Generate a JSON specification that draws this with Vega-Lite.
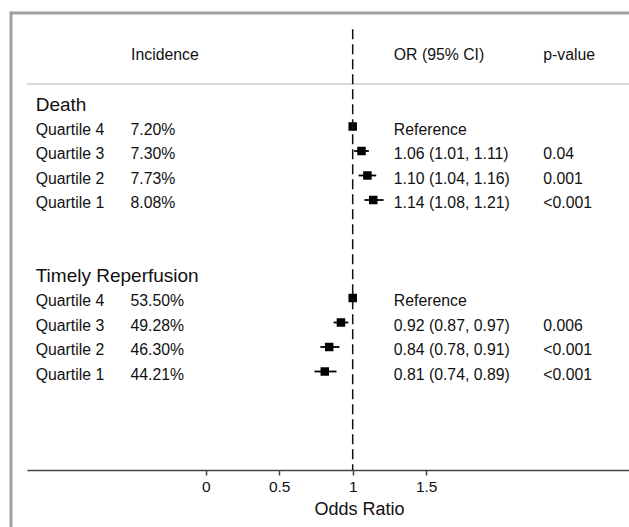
{
  "$schema": "https://vega.github.io/schema/vega-lite/v6.json",
  "autosize": {"type": "none"},
  "width": 602,
  "height": 470,
  "padding": {"left": 27, "top": 0, "right": 0, "bottom": 57},
  "background": "white",
  "config": {
    "view": {"stroke": null},
    "font": "Liberation Sans",
    "text": {"font": "Liberation Sans", "color": "#111111"}
  },
  "datasets": {
    "rows": [
      {"group": "Death", "label": "Quartile 4", "row": 1, "incidence": "7.20%", "or": 1.0, "lo": 1.0, "hi": 1.0, "ci": "Reference", "p": ""},
      {"group": "Death", "label": "Quartile 3", "row": 2, "incidence": "7.30%", "or": 1.06, "lo": 1.01, "hi": 1.11, "ci": "1.06 (1.01, 1.11)", "p": "0.04"},
      {"group": "Death", "label": "Quartile 2", "row": 3, "incidence": "7.73%", "or": 1.10, "lo": 1.04, "hi": 1.16, "ci": "1.10 (1.04, 1.16)", "p": "0.001"},
      {"group": "Death", "label": "Quartile 1", "row": 4, "incidence": "8.08%", "or": 1.14, "lo": 1.08, "hi": 1.21, "ci": "1.14 (1.08, 1.21)", "p": "<0.001"},
      {"group": "Timely Reperfusion", "label": "Quartile 4", "row": 8, "incidence": "53.50%", "or": 1.0, "lo": 1.0, "hi": 1.0, "ci": "Reference", "p": ""},
      {"group": "Timely Reperfusion", "label": "Quartile 3", "row": 9, "incidence": "49.28%", "or": 0.92, "lo": 0.87, "hi": 0.97, "ci": "0.92 (0.87, 0.97)", "p": "0.006"},
      {"group": "Timely Reperfusion", "label": "Quartile 2", "row": 10, "incidence": "46.30%", "or": 0.84, "lo": 0.78, "hi": 0.91, "ci": "0.84 (0.78, 0.91)", "p": "<0.001"},
      {"group": "Timely Reperfusion", "label": "Quartile 1", "row": 11, "incidence": "44.21%", "or": 0.81, "lo": 0.74, "hi": 0.89, "ci": "0.81 (0.74, 0.89)", "p": "<0.001"}
    ],
    "groups": [
      {"group": "Death", "row": 0},
      {"group": "Timely Reperfusion", "row": 7}
    ],
    "one": [{}]
  },
  "data": {"name": "rows"},
  "layer": [
    {
      "mark": {"type": "point", "shape": "square", "filled": true, "size": 72, "color": "#000000", "opacity": 1},
      "encoding": {
        "x": {
          "field": "or", "type": "quantitative",
          "scale": {"domain": [-1.2156, 2.8796], "nice": false, "zero": false},
          "axis": {
            "values": [0, 0.5, 1, 1.5],
            "format": "~g",
            "grid": false,
            "domainColor": "#444444", "domainWidth": 1.5,
            "tickColor": "#444444", "tickWidth": 1.5, "tickSize": 5,
            "labelFont": "Liberation Sans", "labelFontSize": 15.5, "labelColor": "#111111", "labelPadding": 4,
            "title": "Odds Ratio", "titleFont": "Liberation Sans", "titleFontSize": 18, "titleFontWeight": "normal", "titleColor": "#111111",
            "titleX": 332, "titleY": 44, "titleBaseline": "alphabetic"
          }
        },
        "y": {"field": "row", "type": "quantitative", "scale": {"domain": [-4.1633, 15.0204], "nice": false, "zero": false, "reverse": true}, "axis": null}
      }
    },
    {
      "mark": {"type": "rule", "color": "#000000", "strokeWidth": 1.8},
      "encoding": {
        "x": {"field": "lo", "type": "quantitative"},
        "x2": {"field": "hi"},
        "y": {"field": "row", "type": "quantitative"}
      }
    },
    {
      "mark": {"type": "text", "align": "left", "baseline": "alphabetic", "fontSize": 15.8, "dy": 8},
      "encoding": {
        "x": {"datum": -1.1564},
        "y": {"field": "row", "type": "quantitative"},
        "text": {"field": "label"}
      }
    },
    {
      "mark": {"type": "text", "align": "left", "baseline": "alphabetic", "fontSize": 15.8, "dy": 8},
      "encoding": {
        "x": {"datum": -0.5116},
        "y": {"field": "row", "type": "quantitative"},
        "text": {"field": "incidence"}
      }
    },
    {
      "mark": {"type": "text", "align": "left", "baseline": "alphabetic", "fontSize": 15.8, "dy": 8},
      "encoding": {
        "x": {"datum": 1.2796},
        "y": {"field": "row", "type": "quantitative"},
        "text": {"field": "ci"}
      }
    },
    {
      "mark": {"type": "text", "align": "left", "baseline": "alphabetic", "fontSize": 15.8, "dy": 8},
      "encoding": {
        "x": {"datum": 2.2966},
        "y": {"field": "row", "type": "quantitative"},
        "text": {"field": "p"}
      }
    },
    {
      "data": {"name": "groups"},
      "mark": {"type": "text", "align": "left", "baseline": "alphabetic", "fontSize": 19, "dy": 8.5},
      "encoding": {
        "x": {"datum": -1.1564},
        "y": {"field": "row", "type": "quantitative"},
        "text": {"field": "group"}
      }
    },
    {
      "data": {"name": "one"},
      "mark": {"type": "rule", "color": "#a0a0a0", "strokeWidth": 3, "strokeCap": "square"},
      "encoding": {
        "x": {"datum": -1.3244},
        "y": {"datum": -3.632},
        "y2": {"datum": 17.35}
      }
    },
    {
      "data": {"name": "one"},
      "mark": {"type": "rule", "color": "#a0a0a0", "strokeWidth": 3},
      "encoding": {
        "x": {"datum": -1.3244},
        "x2": {"datum": 2.8796},
        "y": {"datum": -3.632}
      }
    },
    {
      "data": {"name": "one"},
      "mark": {"type": "rule", "color": "#cccccc", "strokeWidth": 1.5},
      "encoding": {
        "x": {"datum": -1.2156},
        "x2": {"datum": 2.8796},
        "y": {"datum": -0.7347}
      }
    },
    {
      "data": {"name": "one"},
      "mark": {"type": "rule", "color": "#111111", "strokeWidth": 1.5, "strokeDash": [10, 5]},
      "encoding": {
        "x": {"datum": 1},
        "y": {"datum": -2.967},
        "y2": {"datum": 15.0204}
      }
    },
    {
      "data": {"name": "one"},
      "mark": {"type": "text", "text": "Incidence", "align": "left", "baseline": "alphabetic", "fontSize": 15.8},
      "encoding": {"x": {"datum": -0.5075}, "y": {"datum": -1.694}}
    },
    {
      "data": {"name": "one"},
      "mark": {"type": "text", "text": "OR (95% CI)", "align": "left", "baseline": "alphabetic", "fontSize": 15.8},
      "encoding": {"x": {"datum": 1.2796}, "y": {"datum": -1.694}}
    },
    {
      "data": {"name": "one"},
      "mark": {"type": "text", "text": "p-value", "align": "left", "baseline": "alphabetic", "fontSize": 15.8},
      "encoding": {"x": {"datum": 2.2966}, "y": {"datum": -1.694}}
    }
  ]
}
